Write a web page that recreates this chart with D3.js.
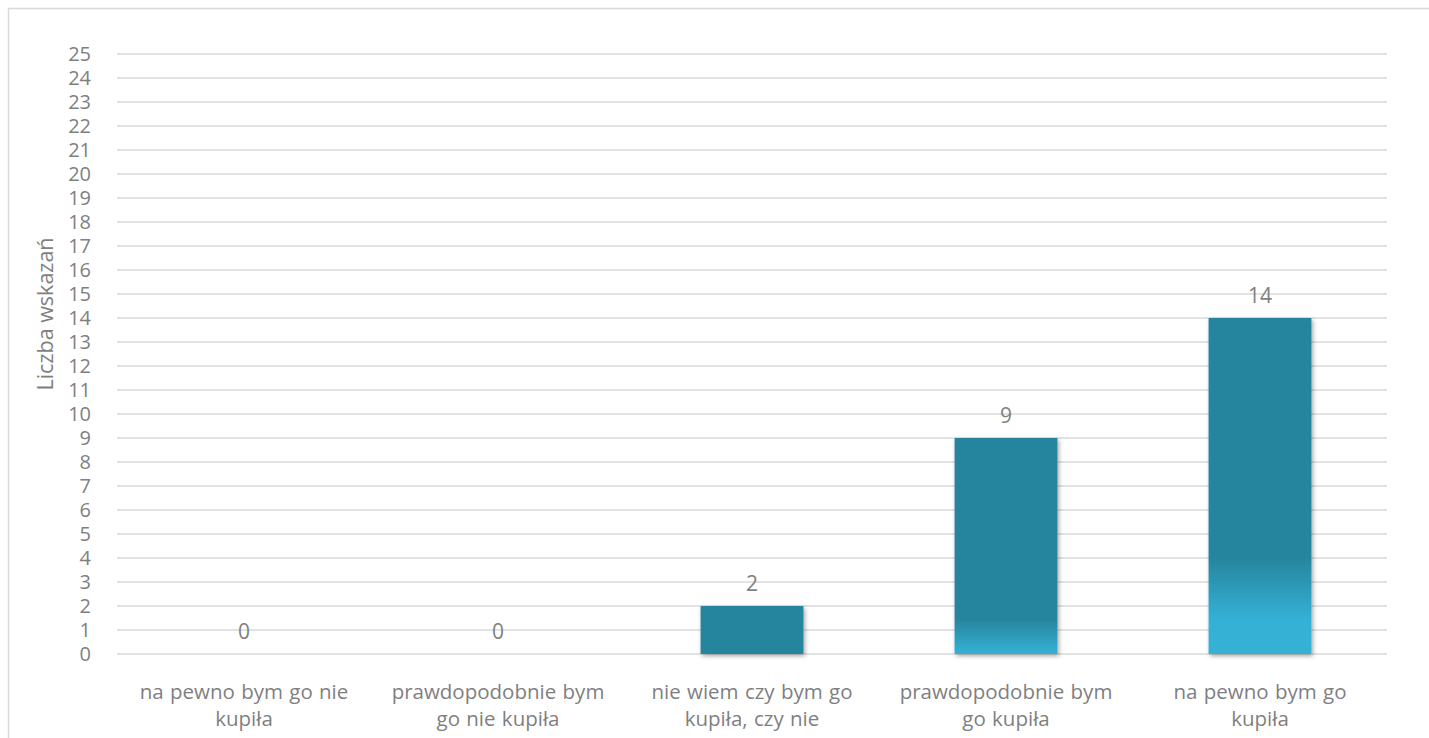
<!DOCTYPE html>
<html><head><meta charset="utf-8">
<script src="https://cdn.jsdelivr.net/npm/d3@7"></script>
<style>
html,body{margin:0;padding:0;background:#fff;}
svg{display:block;}
text{font-family:"Open Sans", Lato, sans-serif;fill:#7f7f7f;}
</style></head>
<body>
<svg id="chart" width="1429" height="738"></svg>
<script>
const categories = [
  ["na pewno bym go nie", "kupiła"],
  ["prawdopodobnie bym", "go nie kupiła"],
  ["nie wiem czy bym go", "kupiła, czy nie"],
  ["prawdopodobnie bym", "go kupiła"],
  ["na pewno bym go", "kupiła"]
];
const values = [0, 0, 2, 9, 14];
const yTicks = d3.range(0, 26);
const yTitle = "Liczba wskazań";

const svg = d3.select("#chart");
const W = 1429, H = 738;
const plot = {left:117, right:1387, top:54, bottom:654};

svg.append("rect").attr("x",8.5).attr("y",8.5).attr("width",W+10).attr("height",H+10)
  .attr("fill","#fff").attr("stroke","#d9d9d9").attr("stroke-width",1.5);

const x = d3.scaleBand().domain(d3.range(categories.length))
  .range([plot.left, plot.right]).paddingInner(0.595).paddingOuter(0.2975);
const y = d3.scaleLinear().domain([0,25]).range([plot.bottom, plot.top]);

const defs = svg.append("defs");
const f = defs.append("filter").attr("id","sh").attr("x","-20%").attr("y","-20%").attr("width","140%").attr("height","140%");
f.append("feDropShadow").attr("dx",1.5).attr("dy",2).attr("stdDeviation",2).attr("flood-color","#000").attr("flood-opacity",0.35);

const dark = "#27859e", light = "#34b1d6";
values.forEach((v,i)=>{
  const h = y(0)-y(v);
  const g = defs.append("linearGradient").attr("id","g"+i).attr("x1",0).attr("y1",0).attr("x2",0).attr("y2",1);
  const darkEndPx = Math.max(0, (v-6.1)*12.2);
  const lightStartPx = Math.max(0, (v-9)*6.8);
  const o1 = h>0 ? 1 - darkEndPx/h : 1;
  const o2 = h>0 ? 1 - lightStartPx/h : 1;
  g.append("stop").attr("offset",0).attr("stop-color",dark);
  g.append("stop").attr("offset",o1).attr("stop-color",dark);
  g.append("stop").attr("offset",Math.max(o1,o2)).attr("stop-color",darkEndPx>0?light:dark);
  g.append("stop").attr("offset",1).attr("stop-color",darkEndPx>0?light:dark);
});

// gridlines
svg.append("g").selectAll("line").data(yTicks).join("line")
  .attr("x1",plot.left).attr("x2",plot.right)
  .attr("y1",d=>y(d)).attr("y2",d=>y(d))
  .attr("stroke","#d9d9d9").attr("stroke-width",1.4);

// y axis labels
const yAxis = d3.axisLeft(y).tickValues(yTicks).tickSize(0).tickPadding(0).tickFormat(d3.format("d"));
const ya = svg.append("g").attr("transform",`translate(91,0)`).call(yAxis);
ya.select(".domain").remove();
ya.selectAll("text").attr("font-size",20).attr("fill","#7f7f7f").attr("font-family","'Open Sans', sans-serif");

// y title
svg.append("text").attr("transform",`translate(53,314) rotate(-90)`)
  .attr("text-anchor","middle").attr("font-size",21.5).text(yTitle);

// bars
svg.append("g").selectAll("rect").data(values).join("rect")
  .attr("x",(d,i)=>x(i)).attr("width",x.bandwidth())
  .attr("y",d=>y(d)).attr("height",d=>y(0)-y(d))
  .attr("fill",(d,i)=>`url(#g${i})`).attr("filter","url(#sh)");

// data labels
svg.append("g").selectAll("text").data(values).join("text")
  .attr("x",(d,i)=>x(i)+x.bandwidth()/2).attr("y",d=>y(d)-15)
  .attr("text-anchor","middle").attr("font-size",21).text(d=>d);

// category labels
const cl = svg.append("g").selectAll("text").data(categories).join("text")
  .attr("text-anchor","middle").attr("font-size",20.5).attr("word-spacing",1)
  .attr("x",(d,i)=>x(i)+x.bandwidth()/2).attr("y",699);
cl.selectAll("tspan").data(d=>d).join("tspan")
  .attr("x",function(){return this.parentNode.getAttribute("x");})
  .attr("dy",(d,j)=>j===0?0:27).text(d=>d);
</script>
</body></html>
